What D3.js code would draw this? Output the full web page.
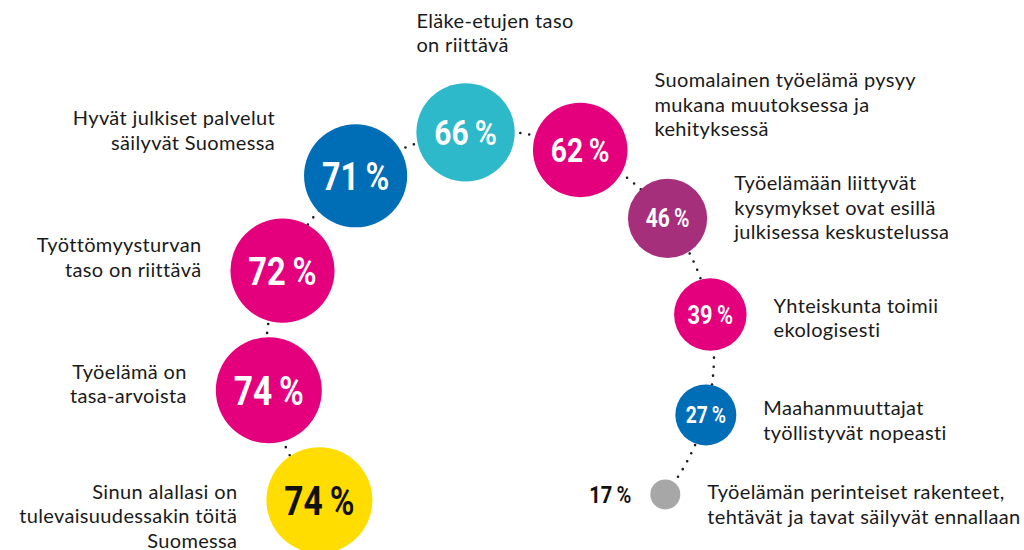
<!DOCTYPE html>
<html>
<head>
<meta charset="utf-8">
<script src="https://cdn.jsdelivr.net/npm/d3@7"></script>
<style>
  body { margin: 0; background: #fff; }
  svg { display: block; }
</style>
</head>
<body>
<div id="chart"></div>
<script>
// statements, going clockwise from the lower left
const statements = [
  ["Sinun alallasi on", "tulevaisuudessakin töitä", "Suomessa"],
  ["Työelämä on", "tasa-arvoista"],
  ["Työttömyysturvan", "taso on riittävä"],
  ["Hyvät julkiset palvelut", "säilyvät Suomessa"],
  ["Eläke-etujen taso", "on riittävä"],
  ["Suomalainen työelämä pysyy", "mukana muutoksessa ja", "kehityksessä"],
  ["Työelämään liittyvät", "kysymykset ovat esillä", "julkisessa keskustelussa"],
  ["Yhteiskunta toimii", "ekologisesti"],
  ["Maahanmuuttajat", "työllistyvät nopeasti"],
  ["Työelämän perinteiset rakenteet,", "tehtävät ja tavat säilyvät ennallaan"]
];
const shares = [74, 74, 72, 71, 66, 62, 46, 39, 27, 17];

const palette = ["#ffdd00", "#e4007c", "#e4007c", "#006db7", "#2db9c9",
                 "#e4007c", "#a62f7c", "#e4007c", "#006db7", "#a7a7a7"];

const width = 1024, height = 550;
const cx = 490, cy = 355, R = 224;           // arc the bubbles sit on
const startAngle = 139.6, endAngle = 398.5;  // degrees, y axis pointing down

const svg = d3.select("#chart").append("svg")
    .attr("width", width)
    .attr("height", height);

// bubble size from the share
const r = d3.scaleLinear().domain([17, 27, 74]).range([15, 30.5, 53]);
const fontSize = d3.scaleLinear().domain([27, 39, 46, 74]).range([23, 26, 25, 40]);

// spread the bubbles along the arc, step depends on the neighbouring sizes
const weights = d3.range(shares.length - 1).map(i => 121 + r(shares[i]) + r(shares[i + 1]));
const cum = [0, ...d3.cumsum(weights)];
const angle = d3.scaleLinear().domain([0, cum[cum.length - 1]]).range([startAngle, endAngle]);

const data = shares.map((v, i) => {
  const a = angle(cum[i]) * Math.PI / 180;
  return {v, i, a, lines: statements[i], r: r(v),
          x: cx + R * Math.cos(a), y: cy + R * Math.sin(a)};
});

// dotted connector
const p = d3.path();
p.arc(cx, cy, R, startAngle * Math.PI / 180, endAngle * Math.PI / 180);
svg.append("path")
    .attr("d", p.toString())
    .attr("fill", "none")
    .attr("stroke", "#1a1a1a")
    .attr("stroke-width", 2.6)
    .attr("stroke-linecap", "round")
    .attr("stroke-dasharray", "0 9");

// bubbles
svg.append("g")
  .selectAll("circle")
  .data(data)
  .join("circle")
    .attr("cx", d => d.x)
    .attr("cy", d => d.y)
    .attr("r", d => d.r)
    .attr("fill", (d, i) => palette[i]);

// value inside the bubble (outside for the tiny last one)
const last = data.length - 1;
const vals = svg.append("g")
  .selectAll("text")
  .data(data)
  .join("text")
    .attr("transform", d => {
      const tx = d.i === last ? d.x - d.r - 19 : d.x;
      return `translate(${tx},${d.y}) scale(0.84,1)`;
    })
    .attr("text-anchor", d => d.i === last ? "end" : "middle")
    .attr("dy", "0.36em")
    .attr("font-family", "Roboto, sans-serif")
    .attr("font-weight", 700)
    .attr("font-size", d => d.i === last ? 24 : fontSize(d.v))
    .attr("fill", d => (d.i === 0 || d.i === last) ? "#111" : "#fff");
vals.append("tspan").text(d => d.v);
vals.append("tspan").attr("font-weight", 600).text("\u2009%");

// statement labels
const lineH = 24.5;
const labels = svg.append("g")
  .selectAll("text")
  .data(data)
  .join("text")
    .attr("font-family", "Lato, sans-serif")
    .attr("font-size", 20)
    .attr("letter-spacing", 0.35)
    .attr("fill", "#1a1a1a")
    .each(function(d) {
      const c = Math.cos(d.a), s = Math.sin(d.a);
      const n = d.lines.length;
      let x, y0, anchor;
      if (Math.abs(c) < 0.25) {
        // top bubble: text sits above it
        anchor = "start";
        x = d.x - d.r;
        y0 = d.y - d.r - 31 - (n - 1) * lineH;
      } else {
        anchor = c < 0 ? "end" : "start";
        x = c < 0 ? d.x - d.r - 29 : d.x + d.r + 27;
        const yc = d.y + 1.3 * d.r * Math.sign(s) * Math.pow(Math.abs(s), 2.5);
        y0 = yc - (n - 1) * lineH / 2 + (c < 0 ? 0 : 11);
      }
      d3.select(this)
        .attr("text-anchor", anchor)
        .selectAll("tspan")
        .data(d.lines)
        .join("tspan")
          .attr("x", x)
          .attr("y", (t, j) => y0 + j * lineH)
          .text(t => t);
    });
</script>
</body>
</html>
